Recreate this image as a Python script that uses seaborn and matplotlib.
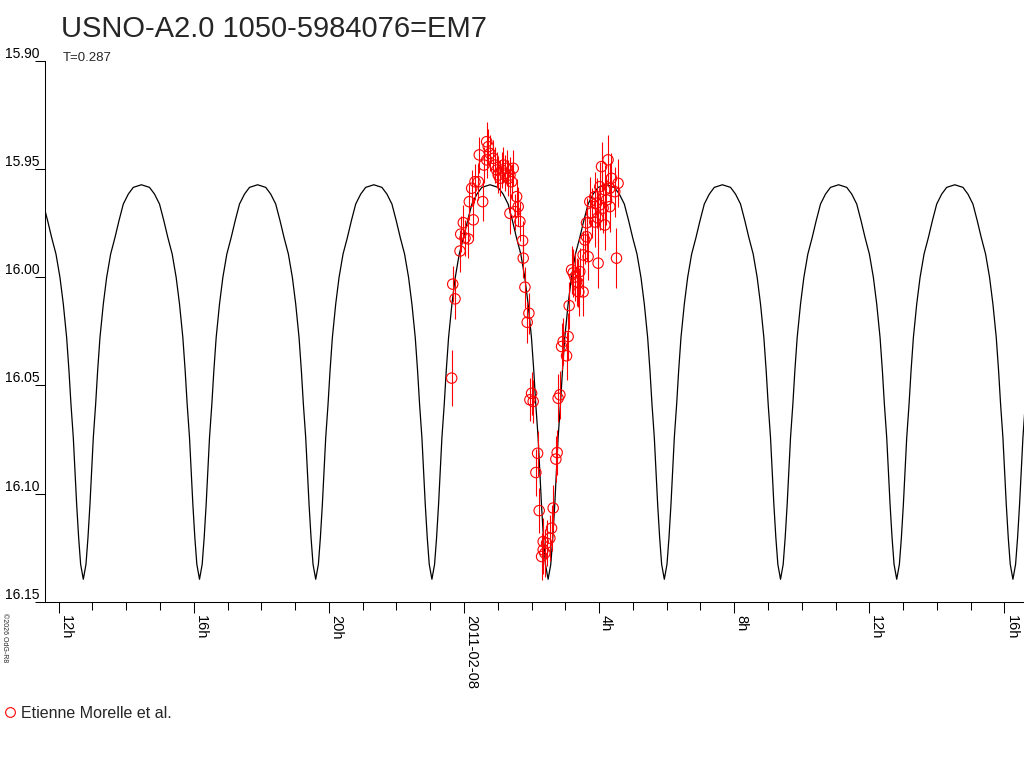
import numpy as np
import pandas as pd
import matplotlib
matplotlib.use('Agg')
import matplotlib.pyplot as plt
import seaborn as sns
from matplotlib.lines import Line2D

# times are hours from 2011-02-08 00:00 UT
obs_t = [-0.364, -0.334, -0.266, -0.118, -0.098, -0.021, 0.030, 0.127, 0.157, 0.228,
         0.275, 0.325, 0.423, 0.452, 0.553, 0.591, 0.671, 0.718, 0.769, 0.671,
         0.866, 0.916, 0.967, 1.014, 1.064, 1.114, 1.162, 1.212, 1.262, 1.310,
         1.360, 1.457, 1.410, 1.360, 1.508, 1.558, 1.605, 1.655, 1.735, 1.753,
         1.803, 1.871, 1.921, 1.951, 2.001, 2.048, 2.128, 2.179, 2.226, 2.297,
         2.344, 2.344, 2.394, 2.445, 2.542, 2.592, 2.640, 2.719, 2.758, 2.787,
         2.838, 2.888, 2.935, 3.036, 3.083, 3.113, 3.184, 3.231, 3.281, 3.331,
         3.379, 3.399, 3.526, 3.429, 3.577, 3.627, 3.526, 3.674, 3.970, 4.514,
         3.627, 3.775, 3.872, 3.961, 4.168, 3.724, 3.872, 3.923, 4.020, 4.118,
         4.218, 4.316, 4.020, 4.168, 4.316, 4.463, 4.561, 4.366, 4.265, 4.071]
obs_mag = [16.0466, 16.0032, 16.0100, 15.9879, 15.9801, 15.9748, 15.9819, 15.9823, 15.9651, 15.9589,
           15.9735, 15.9559, 15.9559, 15.9435, 15.9651, 15.9482, 15.9374, 15.9397, 15.9428, 15.9458,
           15.9451, 15.9482, 15.9505, 15.9528, 15.9543, 15.9505, 15.9482, 15.9520, 15.9497, 15.9543,
           15.9528, 15.9497, 15.9559, 15.9705, 15.9697, 15.9628, 15.9674, 15.9743, 15.9831, 15.9912,
           16.0046, 16.0208, 16.0166, 16.0566, 16.0536, 16.0574, 16.0902, 16.0813, 16.1078, 16.1290,
           16.1259, 16.1221, 16.1274, 16.1228, 16.1205, 16.1159, 16.1066, 16.0840, 16.0810, 16.0559,
           16.0543, 16.0320, 16.0297, 16.0363, 16.0274, 16.0131, 15.9966, 15.9980, 15.9999, 16.0022,
           16.0026, 16.0068, 16.0068, 15.9974, 15.9828, 15.9813, 15.9897, 15.9905, 15.9935, 15.9912,
           15.9749, 15.9703, 15.9745, 15.9726, 15.9759, 15.9651, 15.9628, 15.9658, 15.9666, 15.9681,
           15.9643, 15.9674, 15.9582, 15.9597, 15.9589, 15.9605, 15.9566, 15.9543, 15.9458, 15.9489]
obs_err = [0.0130, 0.0083, 0.0095, 0.0095, 0.0083, 0.0083, 0.0083, 0.0090, 0.0083, 0.0083,
           0.0095, 0.0083, 0.0083, 0.0083, 0.0090, 0.0083, 0.0090, 0.0083, 0.0083, 0.0083,
           0.0083, 0.0083, 0.0083, 0.0083, 0.0083, 0.0083, 0.0083, 0.0083, 0.0083, 0.0083,
           0.0083, 0.0083, 0.0083, 0.0095, 0.0083, 0.0083, 0.0090, 0.0090, 0.0090, 0.0090,
           0.0095, 0.0095, 0.0095, 0.0100, 0.0100, 0.0100, 0.0110, 0.0105, 0.0105, 0.0110,
           0.0110, 0.0110, 0.0110, 0.0105, 0.0105, 0.0105, 0.0105, 0.0105, 0.0105, 0.0110,
           0.0110, 0.0110, 0.0110, 0.0110, 0.0110, 0.0110, 0.0110, 0.0110, 0.0110, 0.0110,
           0.0110, 0.0110, 0.0110, 0.0110, 0.0110, 0.0110, 0.0110, 0.0110, 0.0115, 0.0140,
           0.0115, 0.0115, 0.0115, 0.0115, 0.0115, 0.0115, 0.0115, 0.0115, 0.0115, 0.0115,
           0.0115, 0.0115, 0.0115, 0.0115, 0.0115, 0.0115, 0.0110, 0.0115, 0.0115, 0.0115]

# model light curve: half a cycle (hours after a minimum, mag)
half_dt = [0.000, 0.079, 0.138, 0.197, 0.247, 0.296, 0.365, 0.424, 0.493, 0.592,
           0.691, 0.809, 0.937, 1.056, 1.184, 1.332, 1.480, 1.720]
half_mag = [16.1395, 16.1326, 16.1203, 16.1049, 16.0895, 16.0741, 16.0587, 16.0433, 16.0279, 16.0124,
            16.0001, 15.9893, 15.9817, 15.9739, 15.9662, 15.9616, 15.9585, 15.9573]
period = 3.440
t_min0 = -11.27

y_ticks = [15.90, 15.95, 16.00, 16.05, 16.10, 16.15]
x_major = [-12, -8, -4, 0, 4, 8, 12, 16]
x_labels = ['12h', '16h', '20h', '2011-02-08', '4h', '8h', '12h', '16h']
x_minor = list(range(-12, 17))

cycle_dt = half_dt + [period - d for d in reversed(half_dt[:-1])]
cycle_mag = half_mag + list(reversed(half_mag[:-1]))
model_t = []
model_mag = []
for k in range(-1, 10):
    model_t += [t_min0 + k * period + d for d in cycle_dt]
    model_mag += cycle_mag
model = pd.DataFrame({'t': model_t, 'mag': model_mag})
obs = pd.DataFrame({'t': obs_t, 'mag': obs_mag, 'err': obs_err})

sns.set_style('white')
plt.rcParams['font.family'] = ['Liberation Sans', 'DejaVu Sans']

fig = plt.figure(figsize=(10.24, 7.68), dpi=100)
ax = fig.add_axes([45/1024, 1-602/768, 979/1024, 541.3/768])

sns.lineplot(data=model, x='t', y='mag', sort=False, estimator=None,
             color='black', linewidth=0.9, ax=ax)
ax.errorbar(obs['t'], obs['mag'], yerr=obs['err'], fmt='none',
            ecolor='red', elinewidth=0.8, capsize=0, zorder=3)
sns.scatterplot(data=obs, x='t', y='mag', marker='o', s=56, ax=ax,
                facecolors='none', edgecolor='red', linewidth=0.8, zorder=4)
ax.collections[-1].set_facecolor('none')

ax.set_xlim(-12.404, 16.578)
ax.set_ylim(16.15, 15.90)
ax.set_xlabel('')
ax.set_ylabel('')

ax.set_yticks(y_ticks)
ax.set_yticklabels([f'{v:.2f}' for v in y_ticks])
ax.set_xticks(x_major)
ax.set_xticklabels(x_labels, rotation=-90, ha='left', va='top')
ax.set_xticks(x_minor, minor=True)
ax.tick_params(axis='x', which='major', length=8, width=0.75, direction='out',
               pad=1.5, labelsize=10.5, colors='black', bottom=True)
ax.tick_params(axis='x', which='minor', length=5.7, width=0.75, direction='out',
               colors='black', bottom=True)
ax.tick_params(axis='y', length=7.2, width=0.75, direction='out', pad=-3.6,
               labelsize=10, colors='black', left=True)
for lab in ax.get_yticklabels():
    lab.set_va('bottom')

for s in ['top', 'right']:
    ax.spines[s].set_visible(False)
for s in ['left', 'bottom']:
    ax.spines[s].set_color('black')
    ax.spines[s].set_linewidth(0.75)

fig.text(61/1024, 1-37/768, 'USNO-A2.0 1050-5984076=EM7', fontsize=21, va='baseline')
fig.text(63/1024, 1-61/768, 'T=0.287', fontsize=9.5, va='baseline')
fig.text(4/1024, 1-613/768, '\u00a92026 OdG-R8', fontsize=5, rotation=-90,
         ha='center', va='top')

handle = Line2D([], [], ls='none', marker='o', mfc='none', mec='red', ms=7, mew=0.8)
fig.legend(handles=[handle], labels=['Etienne Morelle et al.'], loc='center left',
           bbox_to_anchor=(3.6/1024, 1-713/768), frameon=False, fontsize=11.5,
           handlelength=0.8, handletextpad=0.3, borderpad=0, borderaxespad=0)

fig.savefig('out.png', dpi=100)
